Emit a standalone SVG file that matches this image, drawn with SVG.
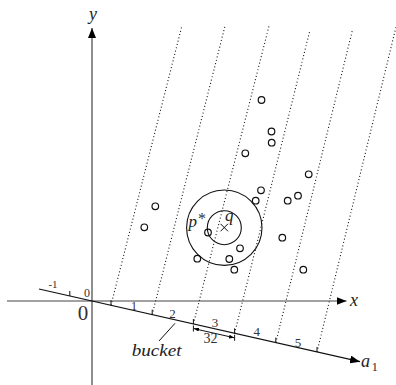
<svg xmlns="http://www.w3.org/2000/svg" width="396" height="385" viewBox="0 0 396 385">
<style>
.ax{stroke:#444;stroke-width:1.2;fill:none}
.a1{stroke:#111;stroke-width:1.2;fill:none}
.tk{stroke:#111;stroke-width:1}
.dot{stroke:#111;stroke-width:1.1;stroke-dasharray:1 2.4;fill:none}
.pt{fill:none;stroke:#111;stroke-width:1.2}
.ring{fill:none;stroke:#111;stroke-width:1.1}
.m{font-style:italic;fill:#222}
.n{fill:#333}
</style>
<defs>
<marker id="arr" viewBox="0 0 10 8" refX="10" refY="4" markerWidth="10" markerHeight="8" markerUnits="userSpaceOnUse" orient="auto">
<path d="M0,0 L10,4 L0,8 z" fill="#000"/>
</marker>
<marker id="sm" viewBox="0 0 5 4" refX="5" refY="2" markerWidth="5" markerHeight="4" markerUnits="userSpaceOnUse" orient="auto">
<path d="M0,0 L5,2 L0,4 z" fill="#000"/>
</marker>
</defs>

<g id="connectors">
<g id="dotted">
<line class="dot" x1="111" y1="305.3" x2="181.7" y2="26.7"/>
<line class="dot" x1="152.2" y1="314.6" x2="225" y2="26"/>
<line class="dot" x1="193.4" y1="324" x2="269" y2="26"/>
<line class="dot" x1="234.6" y1="333.3" x2="310" y2="30"/>
<line class="dot" x1="275.8" y1="342.6" x2="352.7" y2="29"/>
<line class="dot" x1="317" y1="352" x2="396" y2="27"/>
</g>
<line id="x-axis" class="ax" x1="7" y1="301" x2="346.5" y2="301" marker-end="url(#arr)"/>
<line id="y-axis" class="ax" x1="92" y1="385" x2="92" y2="28" marker-end="url(#arr)"/>
<line id="a1-axis" class="a1" x1="39" y1="289" x2="360" y2="361.7" marker-end="url(#arr)"/>
<g id="ticks">
<line class="tk" x1="69.8" y1="296" x2="69.8" y2="291"/>
<line class="tk" x1="111" y1="305.3" x2="111" y2="300.3"/>
<line class="tk" x1="152.2" y1="314.6" x2="152.2" y2="309.6"/>
<line class="tk" x1="193.4" y1="324" x2="193.4" y2="319"/>
<line class="tk" x1="234.6" y1="333.3" x2="234.6" y2="328.3"/>
<line class="tk" x1="275.8" y1="342.6" x2="275.8" y2="337.6"/>
<line class="tk" x1="317" y1="352" x2="317" y2="347"/>
</g>
<g id="dimension">
<line class="tk" x1="193.4" y1="325.5" x2="193.4" y2="331.5"/>
<line class="tk" x1="234.6" y1="334.8" x2="234.6" y2="340.8"/>
<line class="tk" x1="203" y1="330.7" x2="194" y2="328.6" marker-end="url(#sm)"/>
<line class="tk" x1="203" y1="330.7" x2="234" y2="337.7" marker-end="url(#sm)"/>
</g>
<line id="bucket-leader" class="tk" x1="159" y1="341" x2="175" y2="323.3"/>
</g>

<g id="query">
<circle class="ring" cx="224.3" cy="227.7" r="37.7"/>
<circle class="ring" cx="224.3" cy="227.7" r="17"/>
<line class="tk" x1="220.5" y1="223.8" x2="228" y2="231.3"/>
<line class="tk" x1="228" y1="223.8" x2="220.5" y2="231.3"/>
</g>

<g id="points">
<circle class="pt" cx="261.5" cy="100" r="3.3"/>
<circle class="pt" cx="271.5" cy="131.5" r="3.3"/>
<circle class="pt" cx="271.7" cy="142.7" r="3.3"/>
<circle class="pt" cx="245.3" cy="153.3" r="3.3"/>
<circle class="pt" cx="308.7" cy="174.3" r="3.3"/>
<circle class="pt" cx="261" cy="190.3" r="3.3"/>
<circle class="pt" cx="255.7" cy="200.7" r="3.3"/>
<circle class="pt" cx="287.7" cy="200.7" r="3.3"/>
<circle class="pt" cx="298" cy="195.7" r="3.3"/>
<circle class="pt" cx="155.3" cy="206.3" r="3.3"/>
<circle class="pt" cx="144.3" cy="227.3" r="3.3"/>
<circle id="pstar" class="pt" cx="208" cy="232.5" r="3.3"/>
<circle class="pt" cx="282.3" cy="237.7" r="3.3"/>
<circle class="pt" cx="240" cy="248.3" r="3.3"/>
<circle class="pt" cx="197.3" cy="258.7" r="3.3"/>
<circle class="pt" cx="229.3" cy="259" r="3.3"/>
<circle class="pt" cx="234.3" cy="269.7" r="3.3"/>
<circle class="pt" cx="303.3" cy="269.7" r="3.3"/>
</g>

<g id="labels" font-family="'Liberation Serif', 'DejaVu Serif', serif">
<text class="m" x="93" y="20" font-size="18" text-anchor="middle">y</text>
<text class="m" x="350" y="306" font-size="18">x</text>
<text class="m" x="361" y="367" font-size="18">a</text>
<text class="n" x="371.5" y="370.5" font-size="13">1</text>
<text class="n" x="83" y="320" font-size="21" text-anchor="middle">0</text>
<text class="n" x="53" y="288" font-size="11" text-anchor="middle">-1</text>
<text class="n" x="87" y="297" font-size="12" text-anchor="middle">0</text>
<text class="n" x="134" y="310" font-size="12" text-anchor="middle">1</text>
<text class="n" x="172.5" y="318" font-size="13" text-anchor="middle">2</text>
<text class="n" x="215" y="327" font-size="13" text-anchor="middle">3</text>
<text class="n" x="256.7" y="336" font-size="13" text-anchor="middle">4</text>
<text class="n" x="298" y="346.5" font-size="13" text-anchor="middle">5</text>
<text class="n" x="210.5" y="342.5" font-size="14" text-anchor="middle">32</text>
<text class="m" x="131.7" y="356" font-size="17" textLength="50" lengthAdjust="spacingAndGlyphs">bucket</text>
<text class="m" x="188.5" y="227" font-size="17">p</text>
<text class="n" x="198" y="224" font-size="16">*</text>
<text class="m" x="225" y="221" font-size="17">q</text>
</g>
</svg>
